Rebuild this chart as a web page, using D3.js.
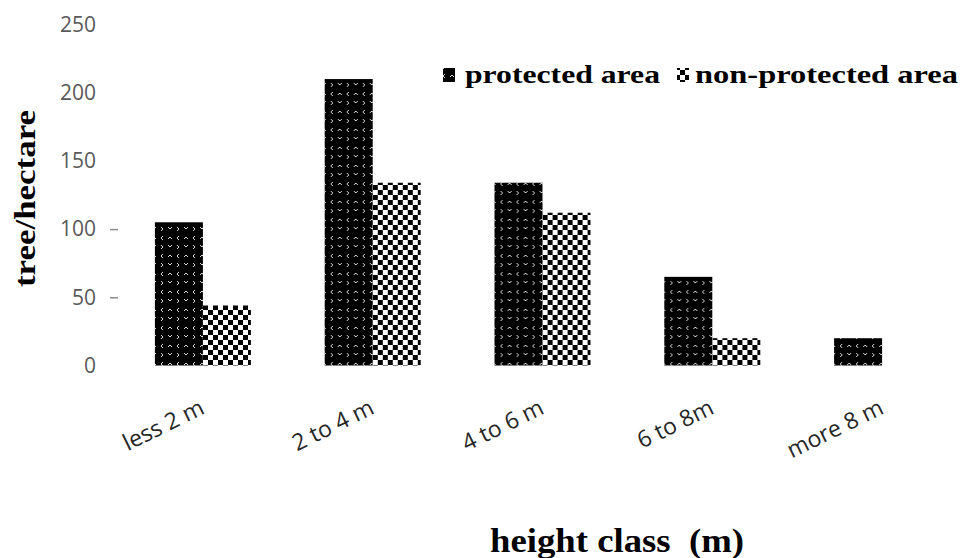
<!DOCTYPE html>
<html>
<head>
<meta charset="utf-8">
<script src="https://cdn.jsdelivr.net/npm/d3@7"></script>
<style>
  body { margin: 0; background: #fff; }
</style>
</head>
<body>
<div id="chart"></div>
<script>
// Chart data
var heightClasses = ["less 2 m", "2 to 4 m", "4 to 6 m", "6 to 8m", "more 8 m"];
var seriesNames = ["protected area", "non-protected area"];
var protectedArea = [105, 210, 134, 65, 20];
var nonProtectedArea = [44, 134, 112, 20, 0];
var yTicks = [0, 50, 100, 150, 200, 250];
var yTickMarks = [50, 100];

var svgWidth = 961;
var svgHeight = 558;

var svg = d3.select("#chart")
    .append("svg")
    .attr("width", svgWidth)
    .attr("height", svgHeight);

// Fill patterns
var defs = svg.append("defs");

var prot = defs.append("pattern")
    .attr("id", "protPattern")
    .attr("patternUnits", "userSpaceOnUse")
    .attr("width", 16)
    .attr("height", 18);
prot.append("rect").attr("width", 16).attr("height", 18).attr("fill", "#000");
prot.append("path")
    .attr("d", "M2,5L4,3L6,5 M13,2L11,4L13,6 M2,11L4,13L6,11 M11,11L13,13L11,15")
    .attr("fill", "none")
    .attr("stroke", "#fff")
    .attr("stroke-width", 1)
    .attr("opacity", 0.85);

var nonProt = defs.append("pattern")
    .attr("id", "nonPattern")
    .attr("patternUnits", "userSpaceOnUse")
    .attr("width", 10)
    .attr("height", 10);
nonProt.append("rect").attr("width", 10).attr("height", 10).attr("fill", "#fff");
nonProt.append("rect").attr("width", 5).attr("height", 5).attr("fill", "#000");
nonProt.append("rect").attr("x", 5).attr("y", 5).attr("width", 5).attr("height", 5).attr("fill", "#000");

var fills = ["url(#protPattern)", "url(#nonPattern)"];

// Scales
var xScale = d3.scaleBand()
    .domain(heightClasses)
    .range([118, 967])
    .padding(0);

var barWidth = 48;
var xInner = d3.scaleBand()
    .domain(seriesNames)
    .range([xScale.bandwidth() / 2 - barWidth, xScale.bandwidth() / 2 + barWidth]);

var yScale = d3.scaleLinear()
    .domain([0, 250])
    .range([365.5, 24.5]);

// Y axis labels
var yAxis = svg.append("g")
    .attr("transform", "translate(100, 0)")
    .call(d3.axisLeft(yScale).tickValues(yTicks).tickSize(0).tickPadding(4));
yAxis.select(".domain").remove();
yAxis.selectAll("text")
    .attr("font-family", "'Open Sans', sans-serif")
    .attr("font-size", "21px")
    .attr("fill", "#595959");

// Small tick dashes
var yMarks = svg.append("g")
    .attr("transform", "translate(118, 0)")
    .call(d3.axisLeft(yScale).tickValues(yTickMarks).tickSize(8).tickFormat(""));
yMarks.select(".domain").remove();
yMarks.selectAll("line").attr("stroke", "#8c8c8c").attr("stroke-width", 1.5);

// Bars
var rows = heightClasses.map(function(c, i) {
    return {cls: c, values: [protectedArea[i], nonProtectedArea[i]]};
});

var groups = svg.selectAll(".group")
    .data(rows)
    .enter()
    .append("g")
    .attr("class", "group")
    .attr("transform", d => `translate(${xScale(d.cls)}, 0)`);

groups.selectAll("rect")
    .data(d => d.values.map((v, j) => ({name: seriesNames[j], value: v, j: j})))
    .enter()
    .append("rect")
    .attr("x", d => xInner(d.name))
    .attr("y", d => yScale(d.value))
    .attr("width", xInner.bandwidth())
    .attr("height", d => yScale(0) - yScale(d.value))
    .attr("fill", d => fills[d.j]);

// X tick labels, rotated
svg.append("g").selectAll("text")
    .data(heightClasses)
    .enter()
    .append("text")
    .attr("transform", d => `translate(${xScale(d) + xScale.bandwidth() / 2 + 3}, 413) rotate(-26)`)
    .attr("text-anchor", "end")
    .attr("font-family", "'Open Sans', sans-serif")
    .attr("font-size", "23px")
    .attr("fill", "#262626")
    .text(d => d);

// Y axis title
svg.append("text")
    .attr("transform", "translate(35, 198.5) rotate(-90)")
    .attr("text-anchor", "middle")
    .attr("font-family", "'Liberation Serif', 'Times New Roman', serif")
    .attr("font-weight", "bold")
    .attr("font-size", "29px")
    .attr("textLength", 177)
    .attr("lengthAdjust", "spacingAndGlyphs")
    .attr("fill", "#000")
    .text("tree/hectare");

// X axis title
svg.append("text")
    .attr("x", 490)
    .attr("y", 552)
    .attr("font-family", "'Liberation Serif', 'Times New Roman', serif")
    .attr("font-weight", "bold")
    .attr("font-size", "34px")
    .attr("textLength", 254)
    .attr("lengthAdjust", "spacingAndGlyphs")
    .attr("fill", "#000")
    .attr("xml:space", "preserve")
    .text("height class  (m)");

// Legend
var legendX = [443, 677];
var legendTextX = [465, 695];
var legendTextLen = [195, 263];

var legend = svg.append("g");
seriesNames.forEach(function(name, i) {
    legend.append("rect")
        .attr("x", legendX[i])
        .attr("y", 68)
        .attr("width", 12)
        .attr("height", 14)
        .attr("fill", fills[i]);
    legend.append("text")
        .attr("x", legendTextX[i])
        .attr("y", 83)
        .attr("font-family", "'Liberation Serif', 'Times New Roman', serif")
        .attr("font-weight", "bold")
        .attr("font-size", "26px")
        .attr("textLength", legendTextLen[i])
        .attr("lengthAdjust", "spacingAndGlyphs")
        .attr("fill", "#000")
        .text(name);
});
</script>
</body>
</html>
